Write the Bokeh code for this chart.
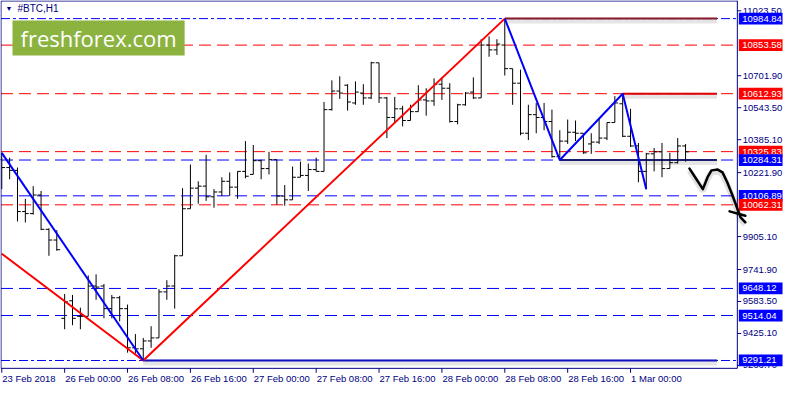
from bokeh.plotting import figure
from bokeh.models import Range1d, Label
from bokeh.core.properties import value
from bokeh.embed import file_html
from bokeh.resources import INLINE

# ---------------- data ----------------
OPEN = [10286, 10247, 10233, 10029, 10019, 10111, 9941, 9888, 9500, 9587,
        9510, 9510, 9660, 9660, 9548, 9602, 9548, 9354, 9349, 9388,
        9403, 9631, 9660, 9810, 10043, 10145, 10155, 10102, 10126, 10179,
        10150, 10228, 10213, 10281, 10242, 10286, 10106, 10087, 10199, 10208,
        10237, 10228, 10534, 10626, 10655, 10567, 10616, 10592, 10766, 10592,
        10495, 10538, 10480, 10524, 10582, 10577, 10660, 10640, 10475, 10558,
        10621, 10592, 10854, 10830, 10854, 10737, 10665, 10417, 10509, 10495,
        10475, 10301, 10378, 10422, 10417, 10364, 10373, 10393, 10470, 10563,
        10402, 10354, 10228, 10315, 10325, 10242, 10271, 10354]
HIGH = [10320, 10296, 10247, 10092, 10155, 10131, 9946, 9937, 9621, 9616,
        9553, 9713, 9718, 9670, 9616, 9611, 9568, 9422, 9403, 9461,
        9645, 9689, 9815, 10145, 10262, 10179, 10310, 10140, 10199, 10223,
        10228, 10378, 10359, 10286, 10325, 10286, 10160, 10252, 10276, 10267,
        10296, 10572, 10679, 10699, 10660, 10674, 10660, 10771, 10766, 10597,
        10597, 10553, 10558, 10655, 10640, 10689, 10694, 10665, 10563, 10621,
        10694, 10883, 10897, 10883, 10984.84, 10737, 10732, 10558, 10567, 10567,
        10534, 10432, 10485, 10480, 10417, 10417, 10490, 10470, 10601, 10612.93,
        10538, 10369, 10320, 10344, 10369, 10320, 10393, 10364]
LOW = [10140, 10189, 9980, 9975, 10014, 9937, 9810, 9835, 9446, 9466,
       9446, 9510, 9592, 9500, 9500, 9485, 9330, 9325, 9291.21, 9354,
       9403, 9592, 9548, 9810, 10043, 10068, 10082, 10048, 10106, 10106,
       10092, 10194, 10213, 10189, 10213, 10063, 10058, 10087, 10199, 10131,
       10228, 10228, 10529, 10587, 10529, 10558, 10558, 10587, 10567, 10393,
       10466, 10451, 10480, 10524, 10504, 10553, 10582, 10470, 10461, 10553,
       10587, 10592, 10796, 10805, 10703, 10558, 10407, 10383, 10417, 10432,
       10296, 10284.31, 10364, 10378, 10315, 10315, 10364, 10383, 10470, 10398,
       10349, 10174, 10140, 10228, 10199, 10242, 10267, 10276]
CLOSE = [10247, 10233, 10029, 10019, 10111, 9941, 9888, 9840, 9582, 9500,
         9510, 9660, 9655, 9548, 9602, 9548, 9354, 9349, 9388, 9403,
         9631, 9660, 9810, 10043, 10145, 10155, 10102, 10126, 10179, 10150,
         10228, 10204, 10281, 10242, 10286, 10106, 10087, 10199, 10208, 10237,
         10228, 10534, 10626, 10616, 10572, 10621, 10592, 10766, 10592, 10495,
         10538, 10480, 10524, 10582, 10577, 10660, 10640, 10475, 10558, 10616,
         10592, 10854, 10830, 10859, 10737, 10665, 10417, 10509, 10495, 10475,
         10301, 10378, 10422, 10417, 10320, 10373, 10393, 10470, 10567, 10402,
         10354, 10228, 10315, 10325, 10242, 10271, 10354, 10325]

TIME_TICKS = [0, 8, 16, 24, 32, 40, 48, 56, 64, 72, 80]
TIME_LABELS = ["23 Feb 2018", "26 Feb 00:00", "26 Feb 08:00", "26 Feb 16:00",
               "27 Feb 00:00", "27 Feb 08:00", "27 Feb 16:00", "28 Feb 00:00",
               "28 Feb 08:00", "28 Feb 16:00", "1 Mar 00:00"]
PRICE_TICKS = [11023.50, 10701.90, 10543.50, 10385.10, 10221.90,
               9905.10, 9741.90, 9583.50, 9425.10, 9266.70]

LEVEL_PRICES = [10984.84, 10853.58, 10612.93, 10325.83, 10284.31,
                10106.89, 10062.31, 9648.12, 9514.04, 9291.21]
LEVEL_COLORS = ["#0000ff", "#ff0000", "#ff0000", "#ff0000", "#0000ff",
                "#0000ff", "#ff0000", "#0000ff", "#0000ff", "#0000ff"]
LEVEL_DASH = ["9 3 3 3", "12 6", "12 6", "12 6", "12 6",
              "12 6", "12 6", "12 6", "12 6", "9 3 3 3"]

# solid (shadowed) horizontal rays: start bar, price, colour
RAY_START = [64, 79, 71, 18]
RAY_PRICE = [10984.84, 10612.93, 10284.31, 9291.21]
RAY_COLOR = ["#8b1a2a", "#e00000", "#1c1c70", "#1010c0"]
RAY_END = 91

RED_ZZ_X = [0, 18, 64]
RED_ZZ_Y = [9820, 9291.21, 10984.84]
BLUE_ZZ1_X = [0, 18]
BLUE_ZZ1_Y = [10320, 9291.21]
BLUE_ZZ2_X = [64, 71, 79, 82]
BLUE_ZZ2_Y = [10984.84, 10284.31, 10612.93, 10140]

ARROW_X = [87.5, 88.3, 89.2, 89.8, 90.3, 91.1, 91.7, 92.3, 92.9, 93.5, 94.0, 94.6]
ARROW_Y = [10242, 10194, 10140, 10199, 10233, 10237, 10223, 10174, 10116, 10053, 10000, 9976]
ARROW_HEAD_X = [92.6, 94.6]
ARROW_HEAD_Y = [10030, 10008]

# ---------------- geometry (styles) ----------------
RX = 1 / 8.0          # one reference pixel in bar units
RY = 4.853            # one reference pixel in price units
X_START = -1.3 * RX
X_END = X_START + 798 * RX
Y_END = 11086.75 - 2.5 * RY
Y_START = Y_END - 392 * RY
X_LEFT = -0.8 * RX
X_AXIS = 748.7 * RX
Y_TOP = 11086.75 - 3 * RY
Y_BOTTOM = 11086.75 - 378 * RY

NAVY = "#000080"
FONT = "Liberation Sans"
FS = "9.5px"

# ---------------- figure ----------------
p = figure(width=784, height=384,
           x_range=Range1d(X_START, X_END), y_range=Range1d(Y_START, Y_END),
           output_backend="svg", toolbar_location=None,
           x_axis_location=None, y_axis_location=None, min_border=0)
p.grid.visible = False
p.outline_line_color = None
p.background_fill_color = "white"
p.border_fill_color = "white"

# dashed level lines (inside chart area)
for price, col, dash in zip(LEVEL_PRICES, LEVEL_COLORS, LEVEL_DASH):
    p.segment(x0=[X_LEFT], x1=[X_AXIS], y0=[price], y1=[price],
              line_color=col, line_width=1, line_dash=dash)

# shadowed solid rays
p.segment(x0=RAY_START, x1=[RAY_END] * len(RAY_START),
          y0=[v - 2 * RY for v in RAY_PRICE], y1=[v - 2 * RY for v in RAY_PRICE],
          line_color="#000000", line_alpha=0.10, line_width=6)
p.segment(x0=RAY_START, x1=[RAY_END] * len(RAY_START), y0=RAY_PRICE, y1=RAY_PRICE,
          line_color=RAY_COLOR, line_width=2)

# OHLC bars
idx = list(range(len(OPEN)))
p.segment(x0=idx, x1=idx, y0=LOW, y1=HIGH, line_color="black", line_width=1)
p.segment(x0=[i - 0.42 for i in idx], x1=idx, y0=OPEN, y1=OPEN, line_color="black", line_width=1)
p.segment(x0=idx, x1=[i + 0.42 for i in idx], y0=CLOSE, y1=CLOSE, line_color="black", line_width=1)

# zigzag lines
p.line(RED_ZZ_X, RED_ZZ_Y, line_color="#ff0000", line_width=2)
p.line(BLUE_ZZ1_X, BLUE_ZZ1_Y, line_color="#0000ff", line_width=2)
p.line(BLUE_ZZ2_X, BLUE_ZZ2_Y, line_color="#0000ff", line_width=2)

# mask left of the chart border
p.quad(left=[X_START], right=[X_LEFT], bottom=[Y_START], top=[Y_END],
       fill_color="white", line_color=None)

# chart frame: left, top, bottom border and right price axis line
p.segment(x0=[X_LEFT, X_LEFT, X_LEFT, X_AXIS], x1=[X_LEFT, X_AXIS, X_AXIS, X_AXIS],
          y0=[Y_BOTTOM, Y_TOP, Y_BOTTOM, Y_BOTTOM], y1=[Y_TOP, Y_TOP, Y_BOTTOM, Y_END],
          line_color=NAVY, line_width=1)

# time axis ticks + labels
p.segment(x0=TIME_TICKS, x1=TIME_TICKS, y0=[Y_BOTTOM] * len(TIME_TICKS),
          y1=[Y_BOTTOM - 4.5 * RY] * len(TIME_TICKS), line_color=NAVY, line_width=1)
p.text(x=[t + 0.5 * RX for t in TIME_TICKS], y=[Y_BOTTOM - 5 * RY] * len(TIME_TICKS),
       text=TIME_LABELS, text_font=value(FONT), text_font_size=value(FS),
       text_color=NAVY, text_align="left", text_baseline="top")

# price axis ticks + labels
p.segment(x0=[X_AXIS] * len(PRICE_TICKS), x1=[X_AXIS + 4 * RX] * len(PRICE_TICKS),
          y0=PRICE_TICKS, y1=PRICE_TICKS, line_color=NAVY, line_width=1)
p.text(x=[X_AXIS + 5.5 * RX] * len(PRICE_TICKS), y=PRICE_TICKS,
       text=[f"{t:.2f}" for t in PRICE_TICKS], text_font=value(FONT),
       text_font_size=value(FS), text_color=NAVY, text_align="left",
       text_baseline="middle")

# price boxes on the axis (each box then its text, so later boxes cover earlier ones)
for price, col in zip(LEVEL_PRICES, LEVEL_COLORS):
    p.quad(left=[X_AXIS + 1.5 * RX], right=[X_AXIS + 46 * RX],
           bottom=[price - 6 * RY], top=[price + 6 * RY],
           fill_color=col, line_color=None)
    p.text(x=[X_AXIS + 5 * RX], y=[price], text=[f"{price:.2f}"],
           text_font=value(FONT), text_font_size=value(FS), text_color="white",
           text_align="left", text_baseline="middle")

# hand-drawn arrow
p.line(ARROW_X, [v - 2 * RY for v in ARROW_Y], line_color="black", line_alpha=0.12, line_width=6)
p.line(ARROW_X, ARROW_Y, line_color="black", line_width=2.5, line_join="round", line_cap="round")
p.line(ARROW_HEAD_X, ARROW_HEAD_Y, line_color="black", line_width=2.5, line_cap="round")

# title & logo
p.add_layout(Label(x=X_START, y=Y_END, x_offset=5, y_offset=-4, text="\u25BC",
                   text_baseline="top", text_font=FONT, text_font_size="7px",
                   text_color=NAVY))
p.add_layout(Label(x=X_START, y=Y_END, x_offset=17, y_offset=-2, text="#BTC,H1",
                   text_baseline="top", text_font=FONT, text_font_size="10px",
                   text_color=NAVY))
p.add_layout(Label(x=X_START, y=Y_END, x_offset=12, y_offset=-20, text="freshforex.com",
                   text_baseline="top", text_font="Open Sans", text_font_size="22px",
                   text_color="white", background_fill_color="#8cb33f",
                   padding=dict(left=8, right=8, top=2, bottom=3)))

open("out.html", "w").write(file_html(p, INLINE))
